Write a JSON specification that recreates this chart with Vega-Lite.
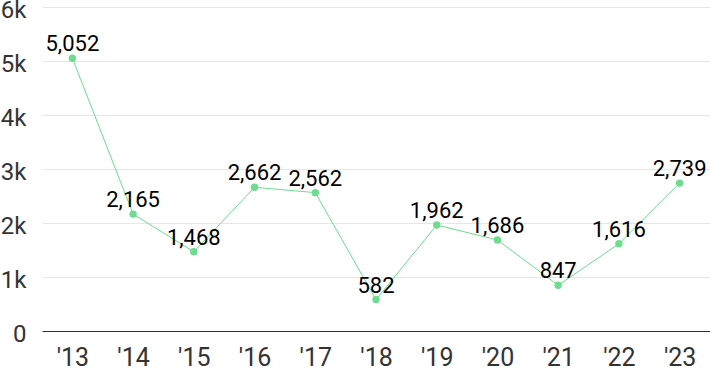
{
  "$schema": "https://vega.github.io/schema/vega-lite/v6.json",
  "width": 668,
  "height": 324,
  "autosize": {"type": "none"},
  "padding": {"left": 42, "top": 7, "right": 0, "bottom": 40},
  "data": {"values": [
    {"year": "'13", "value": 5052},
    {"year": "'14", "value": 2165},
    {"year": "'15", "value": 1468},
    {"year": "'16", "value": 2662},
    {"year": "'17", "value": 2562},
    {"year": "'18", "value": 582},
    {"year": "'19", "value": 1962},
    {"year": "'20", "value": 1686},
    {"year": "'21", "value": 847},
    {"year": "'22", "value": 1616},
    {"year": "'23", "value": 2739}
  ]},
  "config": {"view": {"stroke": null}},
  "encoding": {
    "x": {"field": "year", "type": "ordinal", "sort": null,
      "scale": {"type": "point", "padding": 0.5},
      "axis": {"title": null, "labelAngle": 0, "ticks": false, "grid": false,
        "domainColor": "#333333", "domainWidth": 1.2,
        "labelFont": "Roboto", "labelFontSize": 25, "labelColor": "#333333", "labelPadding": 14}},
    "y": {"field": "value", "type": "quantitative",
      "scale": {"domain": [0, 6000], "nice": false},
      "axis": {"title": null, "values": [0, 1000, 2000, 3000, 4000, 5000, 6000],
        "labelExpr": "datum.value == 0 ? '0' : (datum.value / 1000) + 'k'",
        "domain": false, "ticks": false, "gridColor": "#e6e6e6", "gridWidth": 1,
        "labelFont": "Roboto", "labelFontSize": 24, "labelColor": "#333333", "labelPadding": 16, "labelOffset": 3}}
  },
  "layer": [
    {"mark": {"type": "line", "color": "#6ddc8f", "strokeWidth": 1}},
    {"mark": {"type": "point", "filled": true, "color": "#6ddc8f", "size": 55, "opacity": 1}},
    {"mark": {"type": "text", "baseline": "alphabetic", "dy": -7, "font": "Roboto", "fontSize": 22, "color": "#000000"},
      "encoding": {"text": {"field": "value", "type": "quantitative", "format": ","}}}
  ]
}
